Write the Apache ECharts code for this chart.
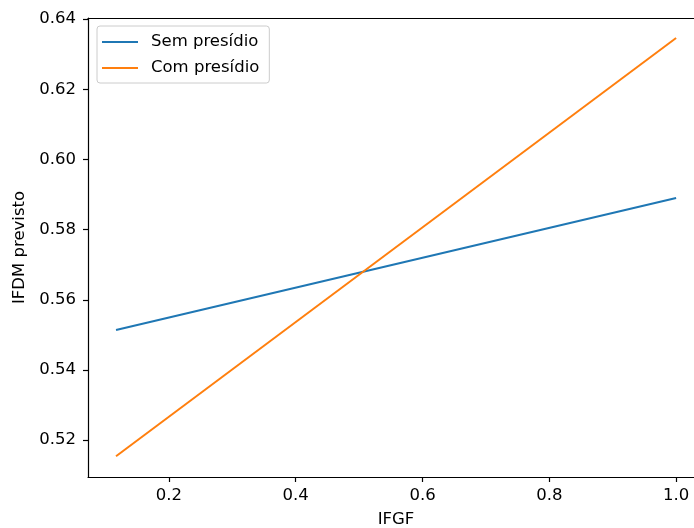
<!DOCTYPE html>
<html>
<head>
<meta charset="utf-8">
<script src="https://cdn.jsdelivr.net/npm/echarts@6/dist/echarts.min.js"></script>
<style>html,body{margin:0;padding:0;background:#fff}#c{width:694px;height:528px}</style>
</head>
<body>
<div id="c"></div>
<script>
const seriesNames = ['Sem presídio', 'Com presídio'];
const xValues = [0.1165, 1.0];
const semPresidio = [0.5514, 0.5890];
const comPresidio = [0.5154, 0.6346];
const xTicks = [0.2, 0.4, 0.6, 0.8, 1.0];
const yTicks = [0.52, 0.54, 0.56, 0.58, 0.60, 0.62, 0.64];
const xAxisTitle = 'IFGF';
const yAxisTitle = 'IFDM previsto';

const font = 'DejaVu Sans';
const chart = echarts.init(document.getElementById('c'), null, {renderer: 'canvas'});
const pairs = (ys) => xValues.map((x, i) => [x, ys[i]]);
chart.setOption({
  animation: false,
  backgroundColor: '#fff',
  textStyle: {fontFamily: font},
  grid: {left: 88, top: 18, bottom: 51, right: -10, containLabel: false, outerBoundsMode: 'none'},
  legend: {
    left: 97, top: 26, orient: 'vertical',
    data: seriesNames,
    icon: 'rect', itemWidth: 36, itemHeight: 2, itemGap: 6,
    padding: [6, 10, 5, 5],
    borderColor: '#cccccc', borderWidth: 1, borderRadius: 3,
    backgroundColor: 'rgba(255,255,255,0.8)',
    textStyle: {fontFamily: font, fontSize: 16.5, color: '#000', lineHeight: 20, padding: [0, 0, 0, 8]}
  },
  xAxis: [{
    type: 'value', min: 0.0723, max: 1.044,
    name: xAxisTitle, nameLocation: 'middle', nameGap: 34,
    nameTextStyle: {fontFamily: font, fontSize: 16.5, color: '#000'},
    axisLine: {show: true, onZero: false, lineStyle: {color: '#000', width: 1.2}},
    axisTick: {show: true, length: 5, lineStyle: {color: '#000', width: 1.2}, customValues: xTicks},
    axisLabel: {fontFamily: font, fontSize: 16.5, color: '#000', margin: 10, customValues: xTicks,
      formatter: v => v.toFixed(1)},
    splitLine: {show: false}
  }, {
    type: 'value', position: 'top', min: 0.0723, max: 1.044,
    axisLine: {show: true, onZero: false, lineStyle: {color: '#000', width: 1.2}},
    axisTick: {show: false}, axisLabel: {show: false}, splitLine: {show: false}
  }],
  yAxis: {
    type: 'value', min: 0.5095, max: 0.6403,
    name: yAxisTitle, nameLocation: 'middle', nameGap: 59,
    nameTextStyle: {fontFamily: font, fontSize: 16.5, color: '#000'},
    axisLine: {show: true, onZero: false, lineStyle: {color: '#000', width: 1.2}},
    axisTick: {show: true, length: 5, lineStyle: {color: '#000', width: 1.2}, customValues: yTicks},
    axisLabel: {fontFamily: font, fontSize: 16.5, color: '#000', margin: 12, customValues: yTicks,
      formatter: v => v.toFixed(2)},
    splitLine: {show: false}
  },
  series: [
    {name: seriesNames[0], type: 'line', data: pairs(semPresidio), showSymbol: false,
      lineStyle: {color: '#1f77b4', width: 2}, itemStyle: {color: '#1f77b4'}},
    {name: seriesNames[1], type: 'line', data: pairs(comPresidio), showSymbol: false,
      lineStyle: {color: '#ff7f0e', width: 2}, itemStyle: {color: '#ff7f0e'}}
  ]
});
</script>
</body>
</html>
